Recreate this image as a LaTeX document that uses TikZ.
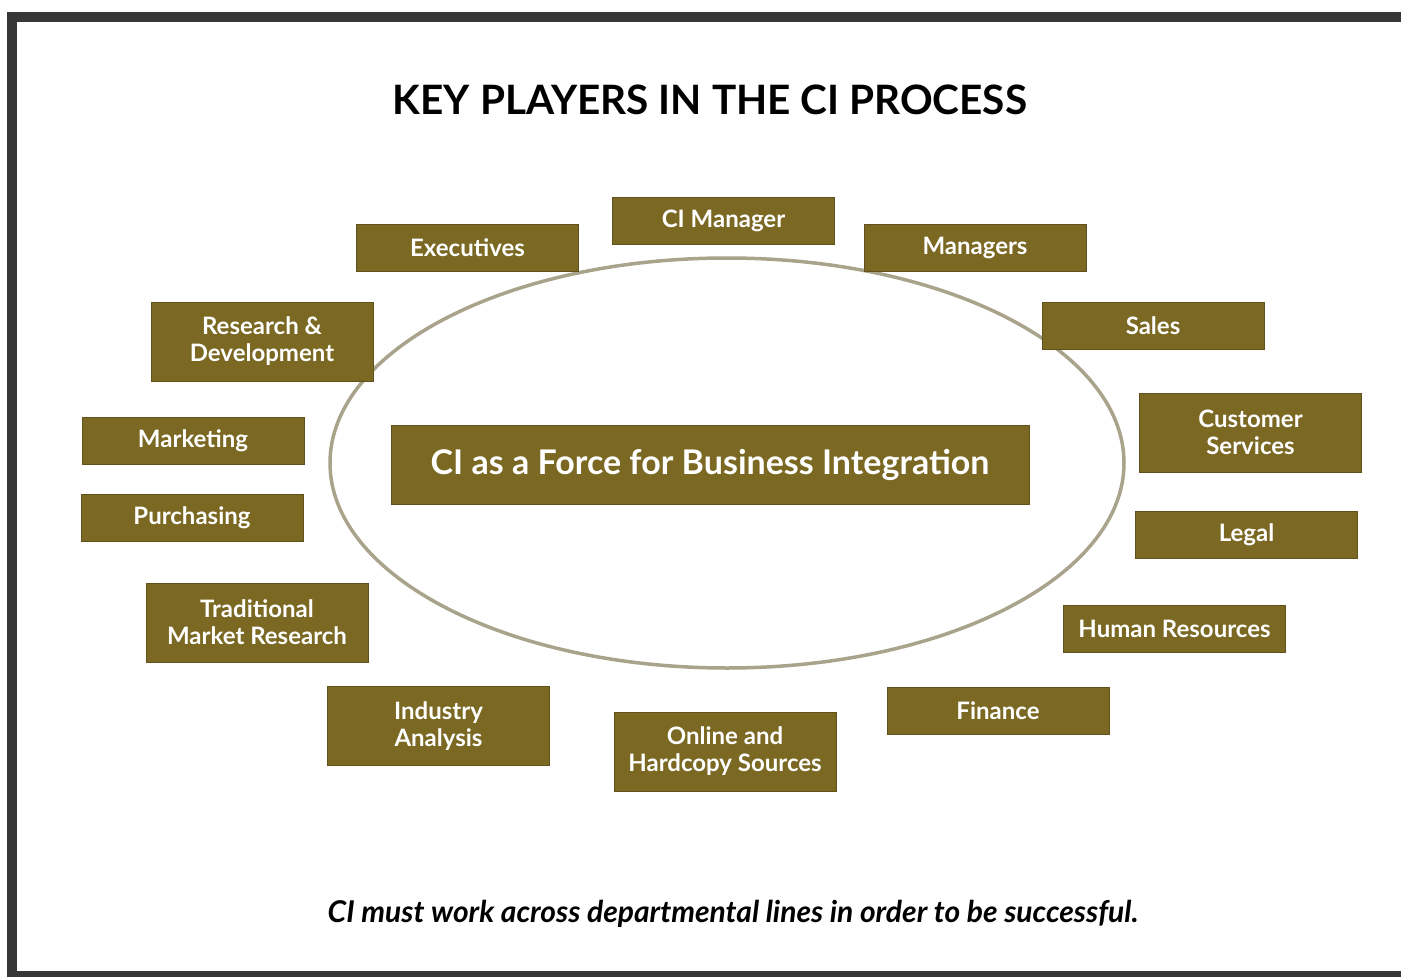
\documentclass[tikz,border=0pt]{standalone}
\usepackage{fontspec}
\setmainfont{Lato}
\usepackage{xcolor}
\usepackage{tikz}
\usetikzlibrary{positioning}

\definecolor{ciolive}{RGB}{122,104,35}
\definecolor{ciedge}{RGB}{96,82,28}
\definecolor{ciring}{RGB}{168,163,138}
\definecolor{ciframe}{RGB}{55,55,55}

\begin{document}
\begin{tikzpicture}[
    x=1pt, y=-1pt,
    player/.style={rectangle, draw=ciedge, line width=0.8pt, fill=ciolive, text=white,
        minimum width=222pt, minimum height=47pt, inner sep=0pt, align=center,
        font=\fontsize{24}{27}\selectfont\bfseries},
    tall/.style={minimum height=79pt},
    ring/.style={draw=ciring, line width=3.5pt}
]
    \useasboundingbox (0,0) rectangle (1401,977);

    % page frame
    \draw[ciframe, line width=10pt] (12,977) -- (12,17) -- (1401,17);
    \draw[ciframe, line width=6pt] (7,974) -- (1401,974);

    \node[font=\fontsize{40.5}{46}\selectfont\bfseries] (title) at (710,100) {KEY PLAYERS IN THE CI PROCESS};

    % the ring behind the players
    \draw[ring] (727,463) ellipse [x radius=397, y radius=205];

    \node[player, minimum width=638pt, minimum height=79pt,
          font=\fontsize{34}{40}\selectfont\bfseries] (core) at (710,464.5)
          {CI as a Force for Business Integration};

    % players round the ring
    \node[player] (cimgr) at (723.5,220.5) {CI Manager};
    \node[player] (exec) at (467.5,247.5) {Executives};
    \node[player] (mgrs) at (975,247.5) {Managers};
    \node[player, tall] (rnd) at (262,341.5) {Research \&\\Development};
    \node[player] (sales) at (1153,325.5) {Sales};
    \node[player, tall] (custsvc) at (1250.5,432.5) {Customer\\Services};
    \node[player] (mkt) at (193,440.5) {Marketing};
    \node[player] (purch) at (192,518) {Purchasing};
    \node[player] (legal) at (1246.5,534.5) {Legal};
    \node[player, tall] (tmr) at (257,622.5) {Traditional\\Market Research};
    \node[player] (hr) at (1174.5,628.5) {Human Resources};
    \node[player, tall] (industry) at (438.5,726) {Industry\\Analysis};
    \node[player, tall] (online) at (725,751.5) {Online and\\Hardcopy Sources};
    \node[player] (finance) at (998,710.5) {Finance};

    \node[font=\fontsize{30}{36}\selectfont\bfseries\itshape] (motto) at (733,914)
        {CI must work across departmental lines in order to be successful.};
\end{tikzpicture}
\end{document}
